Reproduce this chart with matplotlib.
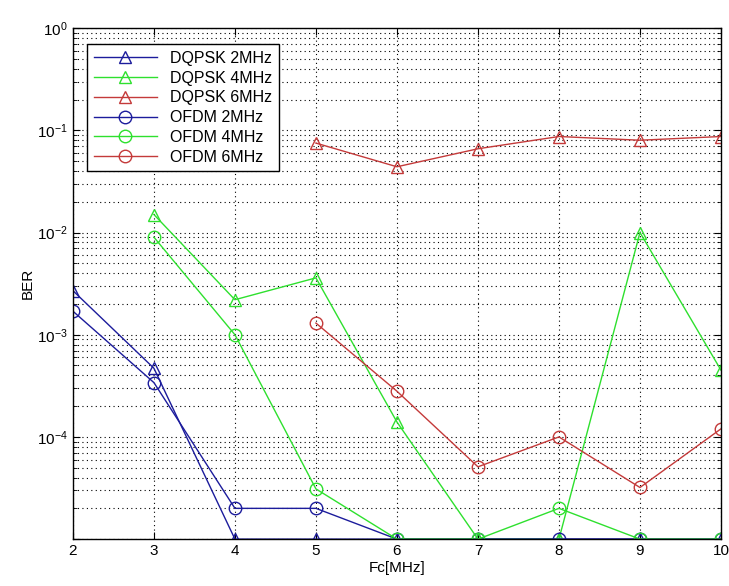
import matplotlib
matplotlib.use("Agg")
import matplotlib.pyplot as plt
from matplotlib.ticker import LogLocator, NullFormatter, FixedLocator, FuncFormatter
import numpy as np

plt.rcParams.update({"font.family": ["Liberation Sans", "DejaVu Sans"], "font.size": 11,
                     "mathtext.default": "regular"})

fc = [2, 3, 4, 5, 6, 7, 8, 9, 10]
dqpsk_2 = [2.7e-3, 4.7e-4, 1e-5, 1e-5, 1e-5, 1e-5, 1e-5, 1e-5, 1e-5]
dqpsk_4_x = [3, 4, 5, 6, 7, 8, 9, 10]
dqpsk_4 = [1.5e-2, 2.2e-3, 3.6e-3, 1.4e-4, 1e-5, 1e-5, 1e-2, 4.5e-4]
dqpsk_6_x = [5, 6, 7, 8, 9, 10]
dqpsk_6 = [7.5e-2, 4.4e-2, 6.6e-2, 8.7e-2, 8.0e-2, 8.7e-2]
ofdm_2 = [1.7e-3, 3.4e-4, 2e-5, 2e-5, 1e-5, 1e-5, 1e-5, 1e-5, 1e-5]
ofdm_4_x = [3, 4, 5, 6, 7, 8, 9, 10]
ofdm_4 = [9e-3, 1e-3, 3.1e-5, 1e-5, 1e-5, 2e-5, 1e-5, 1e-5]
ofdm_6_x = [5, 6, 7, 8, 9, 10]
ofdm_6 = [1.3e-3, 2.8e-4, 5.1e-5, 1e-4, 3.2e-5, 1.2e-4]

blue, green, red = "#1c1c9c", "#2ee02e", "#c43a3a"

fig = plt.figure(figsize=(7.29, 5.86), dpi=100)
ax = fig.add_axes([0.100, 0.080, 0.889, 0.872])

mk = dict(markersize=9, markerfacecolor="none", linewidth=1.0, markeredgewidth=1.0)
ax.semilogy(fc, dqpsk_2, "-^", color=blue, label="DQPSK 2MHz", **mk)
ax.semilogy(dqpsk_4_x, dqpsk_4, "-^", color=green, label="DQPSK 4MHz", **mk)
ax.semilogy(dqpsk_6_x, dqpsk_6, "-^", color=red, label="DQPSK 6MHz", **mk)
ax.semilogy(fc, ofdm_2, "-o", color=blue, label="OFDM 2MHz", **mk)
ax.semilogy(ofdm_4_x, ofdm_4, "-o", color=green, label="OFDM 4MHz", **mk)
ax.semilogy(ofdm_6_x, ofdm_6, "-o", color=red, label="OFDM 6MHz", **mk)

ax.set_xlim(2, 10)
ax.set_ylim(1e-5, 1e0)
ax.xaxis.set_major_locator(FixedLocator(fc))
ax.yaxis.set_major_locator(LogLocator(base=10, numticks=10))
ax.yaxis.set_major_formatter(FuncFormatter(
    lambda v, p: "" if v < 2e-5 else r"$10^{%d}$" % int(round(np.log10(v)))))
ax.yaxis.set_minor_locator(LogLocator(base=10, subs=range(2, 10), numticks=20))
ax.yaxis.set_minor_formatter(NullFormatter())
ax.grid(True, which="major", linestyle=(0, (1, 3)), color="black", linewidth=0.8)
ax.grid(True, which="minor", axis="y", linestyle=(0, (1, 3)), color="black", linewidth=0.8)
ax.tick_params(which="both", direction="in", top=True, right=True, labelsize=11)
ax.tick_params(which="major", length=5)
ax.tick_params(which="minor", length=3)
for s in ax.spines.values():
    s.set_linewidth(1.0)

ax.set_xlabel("Fc[MHz]", labelpad=2)
ax.set_ylabel("BER", labelpad=2)

leg = ax.legend(loc="upper left", bbox_to_anchor=(0.022, 0.968), fancybox=False,
                framealpha=1, edgecolor="black", handlelength=4, labelspacing=0.3,
                borderaxespad=0, fontsize=11.5)
leg.get_frame().set_linewidth(1.0)

fig.savefig("out.png", dpi=100)
